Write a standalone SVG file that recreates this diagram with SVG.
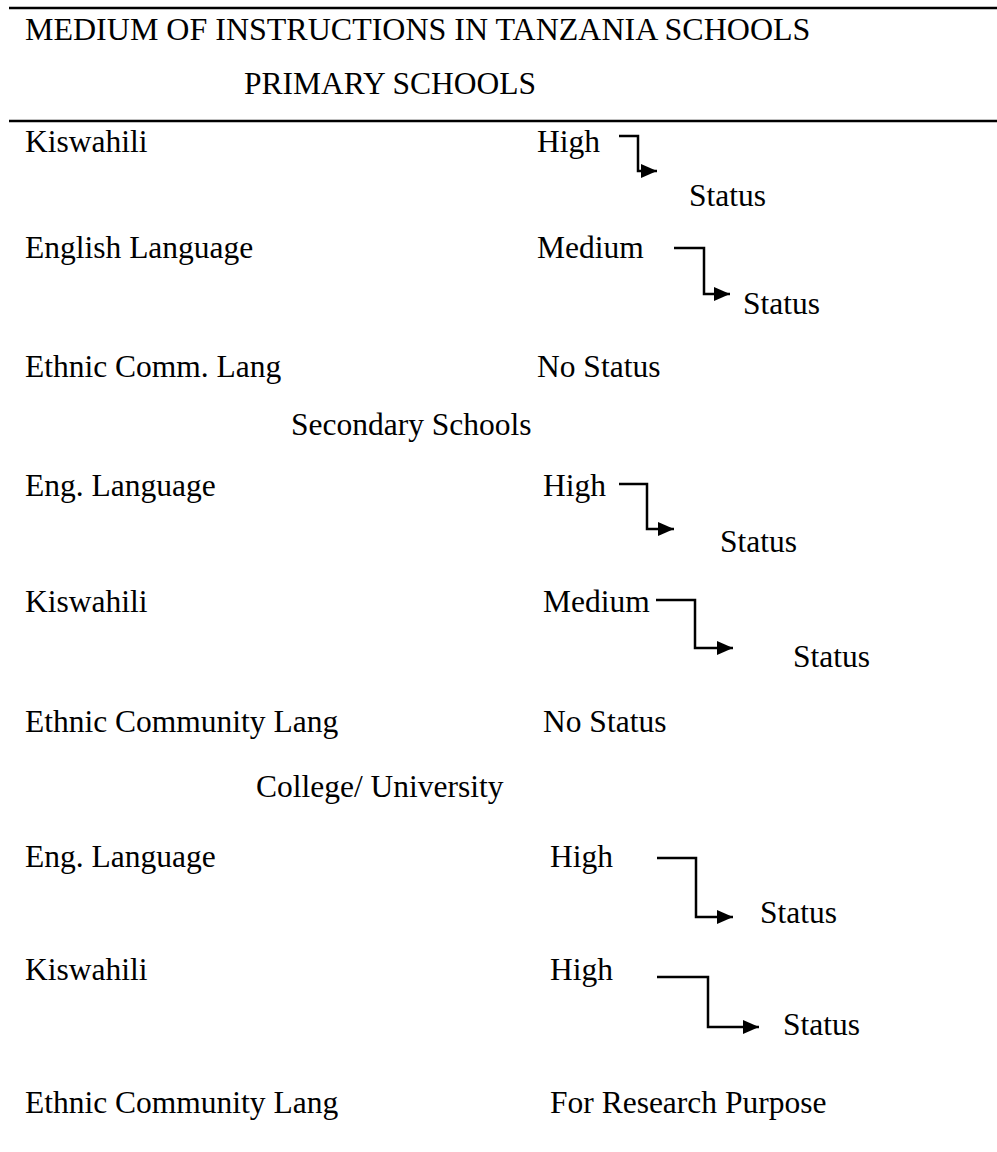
<svg xmlns="http://www.w3.org/2000/svg" width="997" height="1152" viewBox="0 0 997 1152">
<style>
text{font-family:"Liberation Serif","Times New Roman",serif;font-size:31.5px;fill:#000}
.title{font-size:32px}
.rule{stroke:#000;stroke-width:2.5}
.conn{fill:none;stroke:#000;stroke-width:2.5}
</style>
<defs>
<marker id="arr" markerUnits="userSpaceOnUse" markerWidth="18" markerHeight="16" refX="16" refY="7" orient="auto">
<path d="M0,0 L16,7 L0,14 Z" fill="#000"/>
</marker>
</defs>
<rect width="997" height="1152" fill="#fff"/>
<g id="header">
<line class="rule" x1="9" y1="8" x2="997" y2="8"/>
<text class="title" x="25" y="40">MEDIUM OF INSTRUCTIONS IN TANZANIA SCHOOLS</text>
<text x="244" y="94">PRIMARY SCHOOLS</text>
<line class="rule" x1="9" y1="121" x2="997" y2="121"/>
</g>
<g id="primary">
<text x="25" y="152">Kiswahili</text>
<text x="537" y="152">High</text>
<text x="689" y="206">Status</text>
<text x="25" y="258">English Language</text>
<text x="537" y="258">Medium</text>
<text x="743" y="314">Status</text>
<text x="25" y="377">Ethnic Comm. Lang</text>
<text x="537" y="377">No Status</text>
</g>
<g id="secondary">
<text x="291" y="435">Secondary Schools</text>
<text x="25" y="496">Eng. Language</text>
<text x="543" y="496">High</text>
<text x="720" y="552">Status</text>
<text x="25" y="612">Kiswahili</text>
<text x="543" y="612">Medium</text>
<text x="793" y="667">Status</text>
<text x="25" y="732">Ethnic Community Lang</text>
<text x="543" y="732">No Status</text>
</g>
<g id="college">
<text x="256" y="797">College/ University</text>
<text x="25" y="867">Eng. Language</text>
<text x="550" y="867">High</text>
<text x="760" y="923">Status</text>
<text x="25" y="980">Kiswahili</text>
<text x="550" y="980">High</text>
<text x="783" y="1035">Status</text>
<text x="25" y="1113">Ethnic Community Lang</text>
<text x="550" y="1113">For Research Purpose</text>
</g>
<g id="connectors">
<path class="conn" d="M619,136 H638 V171 H657" marker-end="url(#arr)"/>
<path class="conn" d="M674,248 H704 V294 H730" marker-end="url(#arr)"/>
<path class="conn" d="M619,484 H647 V529 H674" marker-end="url(#arr)"/>
<path class="conn" d="M656,600 H695 V648 H733" marker-end="url(#arr)"/>
<path class="conn" d="M657,858 H696 V917 H733" marker-end="url(#arr)"/>
<path class="conn" d="M657,977 H708 V1027 H759" marker-end="url(#arr)"/>
</g>
</svg>
